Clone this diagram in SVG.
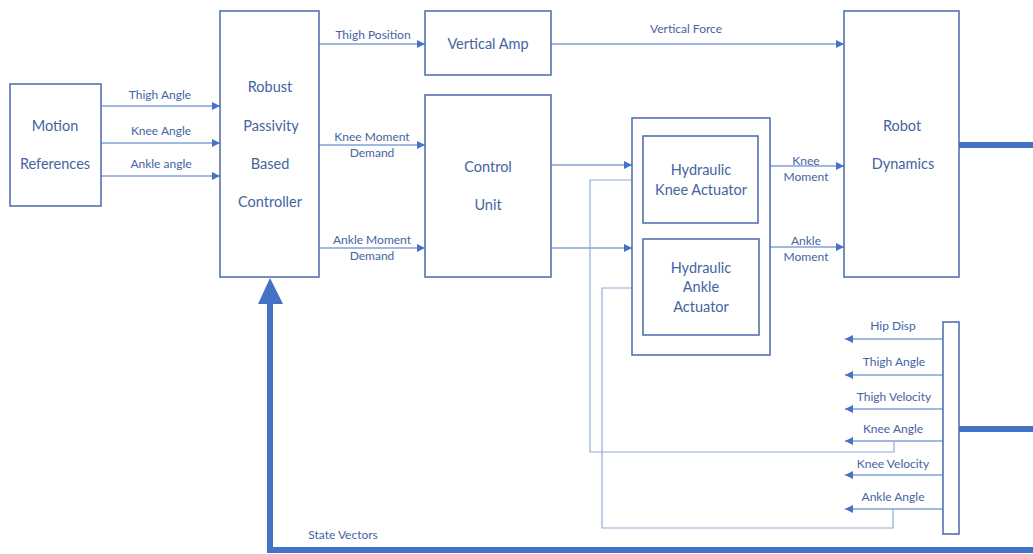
<svg xmlns="http://www.w3.org/2000/svg" width="1033" height="554" viewBox="0 0 1033 554">
<defs>
<marker id="ah" viewBox="0 0 8 8" refX="8" refY="4" markerWidth="8" markerHeight="8" markerUnits="userSpaceOnUse" orient="auto">
<path d="M0,0 L8,4 L0,8 Z" fill="#4472C4"/>
</marker>
</defs>
<style>
.box{fill:#fff;stroke:#4A6AA8;stroke-width:1.5}
.ln{fill:none;stroke:#4472C4;stroke-width:1;marker-end:url(#ah)}
.fb{fill:none;stroke:#8FAADC;stroke-width:1.2}
.thick{fill:none;stroke:#4472C4;stroke-width:6}
.nt{font-family:Lato,"Open Sans",sans-serif;font-size:14.5px;fill:#44649F;text-anchor:middle;dominant-baseline:central}
.lb{font-family:Lato,"Open Sans",sans-serif;font-size:12px;fill:#44649F;text-anchor:middle;dominant-baseline:central}
</style>
<rect width="1033" height="554" fill="#fff"/>
<g id="connectors">
<line class="ln" x1="101" y1="106" x2="220" y2="106"/>
<line class="ln" x1="101" y1="143" x2="220" y2="143"/>
<line class="ln" x1="101" y1="176" x2="220" y2="176"/>
<line class="ln" x1="319" y1="44" x2="425" y2="44"/>
<line class="ln" x1="319" y1="145" x2="425" y2="145"/>
<line class="ln" x1="319" y1="248" x2="425" y2="248"/>
<line class="ln" x1="551" y1="44" x2="844" y2="44"/>
<line class="ln" x1="551" y1="165" x2="632" y2="165"/>
<line class="ln" x1="551" y1="248" x2="632" y2="248"/>
<line class="ln" x1="770" y1="166" x2="844" y2="166"/>
<line class="ln" x1="770" y1="247" x2="844" y2="247"/>
<line class="ln" x1="943" y1="339" x2="845" y2="339"/>
<line class="ln" x1="943" y1="375" x2="845" y2="375"/>
<line class="ln" x1="943" y1="409" x2="845" y2="409"/>
<line class="ln" x1="943" y1="441" x2="845" y2="441"/>
<line class="ln" x1="943" y1="475" x2="845" y2="475"/>
<line class="ln" x1="943" y1="509" x2="845" y2="509"/>
<polyline class="fb" points="894,441 894,452 590,452 590,180 636,180"/>
<line class="ln" x1="636" y1="180" x2="643" y2="180"/>
<polyline class="fb" points="893,509 893,528 602,528 602,288 636,288"/>
<line class="ln" x1="636" y1="288" x2="643" y2="288"/>
<line class="thick" x1="959" y1="145" x2="1033" y2="145"/>
<line class="thick" x1="959" y1="429" x2="1033" y2="429"/>
<polyline class="thick" points="1033,550 270,550 270,300"/>
<path d="M258,304 L270,278 L283,304 Z" fill="#4472C4"/>
<text class="lb" x="160" y="94">Thigh Angle</text>
<text class="lb" x="161" y="130">Knee Angle</text>
<text class="lb" x="161" y="163">Ankle angle</text>
<text class="lb" x="373" y="34">Thigh Position</text>
<text class="lb" x="372" y="136">Knee Moment</text>
<text class="lb" x="372" y="152">Demand</text>
<text class="lb" x="372" y="239">Ankle Moment</text>
<text class="lb" x="372" y="255">Demand</text>
<text class="lb" x="686" y="28">Vertical Force</text>
<text class="lb" x="806" y="160">Knee</text>
<text class="lb" x="806" y="176">Moment</text>
<text class="lb" x="806" y="240">Ankle</text>
<text class="lb" x="806" y="256">Moment</text>
<text class="lb" x="893" y="325">Hip Disp</text>
<text class="lb" x="894" y="361">Thigh Angle</text>
<text class="lb" x="894" y="396">Thigh Velocity</text>
<text class="lb" x="893" y="428">Knee Angle</text>
<text class="lb" x="893" y="463">Knee Velocity</text>
<text class="lb" x="893" y="496">Ankle Angle</text>
<text class="lb" x="343" y="534">State Vectors</text>
</g>
<g id="motion-references">
<rect class="box" x="10" y="84" width="91" height="122"/>
<text class="nt" x="55" y="125">Motion</text>
<text class="nt" x="55" y="163">References</text>
</g>
<g id="controller">
<rect class="box" x="220" y="11" width="99" height="266"/>
<text class="nt" x="270" y="86">Robust</text>
<text class="nt" x="271" y="125">Passivity</text>
<text class="nt" x="270" y="163">Based</text>
<text class="nt" x="270" y="201">Controller</text>
</g>
<g id="vertical-amp">
<rect class="box" x="425" y="11" width="126" height="64"/>
<text class="nt" x="488" y="43">Vertical Amp</text>
</g>
<g id="control-unit">
<rect class="box" x="425" y="95" width="126" height="182"/>
<text class="nt" x="488" y="166">Control</text>
<text class="nt" x="488" y="204">Unit</text>
</g>
<g id="actuators">
<rect class="box" x="632" y="118" width="138" height="237"/>
</g>
<g id="knee-actuator">
<rect class="box" x="643" y="136" width="115" height="87"/>
<text class="nt" x="701" y="169">Hydraulic</text>
<text class="nt" x="701" y="189">Knee Actuator</text>
</g>
<g id="ankle-actuator">
<rect class="box" x="643" y="239" width="116" height="96"/>
<text class="nt" x="701" y="267">Hydraulic</text>
<text class="nt" x="701" y="286">Ankle</text>
<text class="nt" x="701" y="306">Actuator</text>
</g>
<g id="robot-dynamics">
<rect class="box" x="844" y="11" width="115" height="266"/>
<text class="nt" x="902" y="125">Robot</text>
<text class="nt" x="903" y="163">Dynamics</text>
</g>
<g id="bus">
<rect class="box" x="943" y="322" width="16" height="212"/>
</g>
</svg>
